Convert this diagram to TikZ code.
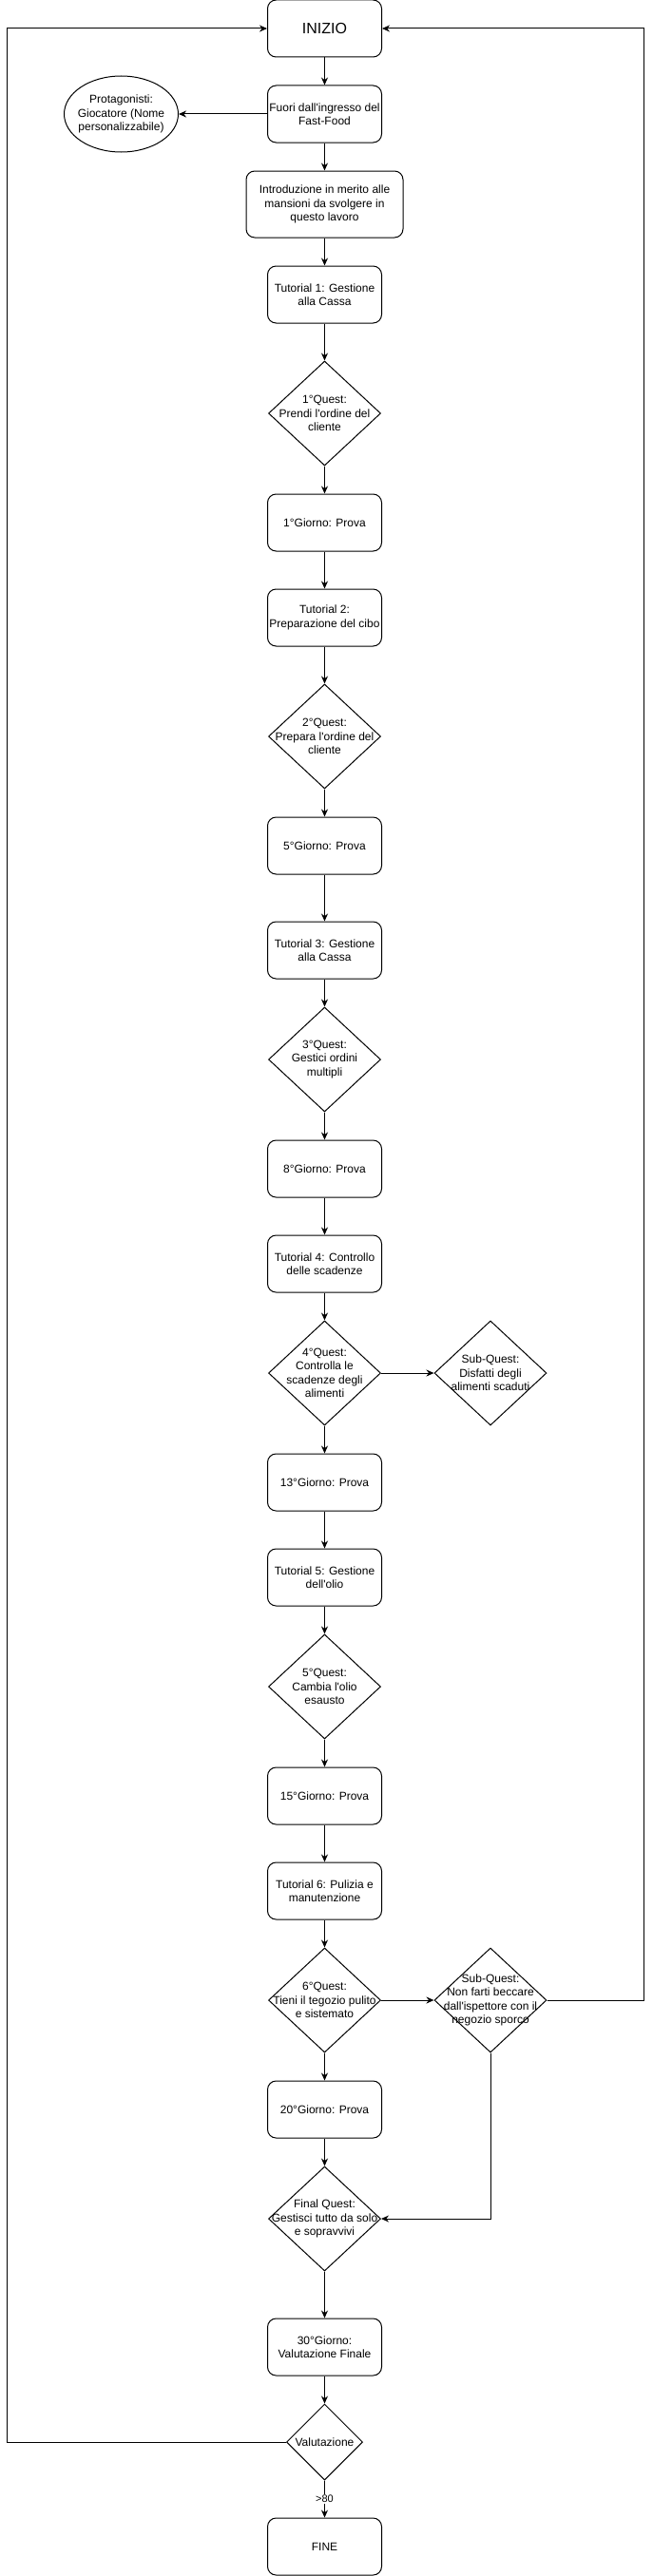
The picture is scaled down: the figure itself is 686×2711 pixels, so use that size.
\documentclass[tikz,border=0pt]{standalone}
\usepackage{fontspec}
\setmainfont{Liberation Sans}[Ligatures=TeXOff]
\usetikzlibrary{arrows.meta,shapes.geometric}

\tikzset{
	box/.style={draw, rounded corners=9pt, minimum width=120pt, minimum height=60pt,
		inner sep=0pt, align=center, font=\fontsize{12}{14.4}\selectfont},
	quest/.style={draw, diamond, minimum width=118pt, minimum height=110pt, inner sep=0pt},
	qtext/.style={align=center, inner sep=0pt, font=\fontsize{12}{14.4}\selectfont},
}

\begin{document}
\begin{tikzpicture}[x=1pt, y=-1pt, line width=1pt, >={Stealth[length=8pt,width=7pt]}]
		\useasboundingbox (0,0) rectangle (686,2711);
		% nodi
		\node[box, font=\fontsize{16}{19}\selectfont] (inizio) at (341.5,30) {INIZIO};
		\node[box] (fuori) at (341.5,120) {Fuori dall'ingresso del\\Fast-Food};
		\node[draw, ellipse, minimum width=120pt, minimum height=80pt, inner sep=0pt,
			label={[qtext]center:{Protagonisti:\\Giocatore (Nome\\personalizzabile)}}] (prot) at (127.5,120) {};
		\node[box, minimum width=165pt, minimum height=70pt] (intro) at (341.5,215)
			{Introduzione in merito alle\\mansioni da svolgere in\\questo lavoro};
		\node[box] (tut1) at (341.5,310) {Tutorial 1: Gestione\\alla Cassa};
		\node[quest, label={[qtext]center:{1°Quest:\\Prendi l'ordine del\\cliente}}] (q1) at (341.5,435) {};
		\node[box] (g1) at (341.5,550) {1°Giorno: Prova};
		\node[box] (tut2) at (341.5,650) {Tutorial 2:\\Preparazione del cibo};
		\node[quest, label={[qtext]center:{2°Quest:\\Prepara l'ordine del\\cliente}}] (q2) at (341.5,775) {};
		\node[box] (g5) at (341.5,890) {5°Giorno: Prova};
		\node[box] (tut3) at (341.5,1000) {Tutorial 3: Gestione\\alla Cassa};
		\node[quest, label={[qtext]center:{3°Quest:\\Gestici ordini\\multipli}}] (q3) at (341.5,1115) {};
		\node[box] (g8) at (341.5,1230) {8°Giorno: Prova};
		\node[box] (tut4) at (341.5,1330) {Tutorial 4: Controllo\\delle scadenze};
		\node[quest, label={[qtext]center:{4°Quest:\\Controlla le\\scadenze degli\\alimenti}}] (q4) at (341.5,1445) {};
		\node[quest, label={[qtext]center:{Sub-Quest:\\Disfatti degli\\alimenti scaduti}}] (sub1) at (516,1445) {};
		\node[box] (g13) at (341.5,1560) {13°Giorno: Prova};
		\node[box] (tut5) at (341.5,1660) {Tutorial 5: Gestione\\dell'olio};
		\node[quest, label={[qtext]center:{5°Quest:\\Cambia l'olio\\esausto}}] (q5) at (341.5,1775) {};
		\node[box] (g15) at (341.5,1890) {15°Giorno: Prova};
		\node[box] (tut6) at (341.5,1990) {Tutorial 6: Pulizia e\\manutenzione};
		\node[quest, label={[qtext]center:{6°Quest:\\Tieni il tegozio pulito\\e sistemato}}] (q6) at (341.5,2105) {};
		\node[quest, label={[qtext]center:{Sub-Quest:\\Non farti beccare\\dall'ispettore con il\\negozio sporco}}] (sub2) at (516,2105) {};
		\node[box] (g20) at (341.5,2220) {20°Giorno: Prova};
		\node[quest, label={[qtext]center:{Final Quest:\\Gestisci tutto da solo\\e sopravvivi}}] (qf) at (341.5,2335) {};
		\node[box] (g30) at (341.5,2470) {30°Giorno:\\Valutazione Finale};
		\node[quest, minimum width=80pt, minimum height=80pt, label={[qtext]center:Valutazione}] (val) at (341.5,2570) {};
		\node[box] (fine) at (341.5,2680) {FINE};
		\coordinate (rr) at (677,30);
		\coordinate (ll) at (7.5,30);
		% frecce
		\draw[->] (inizio) -- (fuori);
		\draw[->] (fuori) -- (prot);
		\draw[->] (fuori) -- (intro);
		\draw[->] (intro) -- (tut1);
		\draw[->] (tut1) -- (q1);
		\draw[->] (q1) -- (g1);
		\draw[->] (g1) -- (tut2);
		\draw[->] (tut2) -- (q2);
		\draw[->] (q2) -- (g5);
		\draw[->] (g5) -- (tut3);
		\draw[->] (tut3) -- (q3);
		\draw[->] (q3) -- (g8);
		\draw[->] (g8) -- (tut4);
		\draw[->] (tut4) -- (q4);
		\draw[->] (q4) -- (sub1);
		\draw[->] (q4) -- (g13);
		\draw[->] (g13) -- (tut5);
		\draw[->] (tut5) -- (q5);
		\draw[->] (q5) -- (g15);
		\draw[->] (g15) -- (tut6);
		\draw[->] (tut6) -- (q6);
		\draw[->] (q6) -- (sub2);
		\draw[->] (q6) -- (g20);
		\draw[->] (g20) -- (qf);
		\draw[->] (sub2.south) |- (qf.east);
		\draw[->] (sub2.east) -| (rr) -- (inizio.east);
		\draw[->] (qf) -- (g30);
		\draw[->] (g30) -- (val);
		\draw[->] (val) -- node[fill=white, inner sep=1pt, font=\fontsize{11}{13}\selectfont] {>80} (fine);
		\draw[->] (val.west) -| (ll) -- (inizio.west);
	\end{tikzpicture}
\end{document}
